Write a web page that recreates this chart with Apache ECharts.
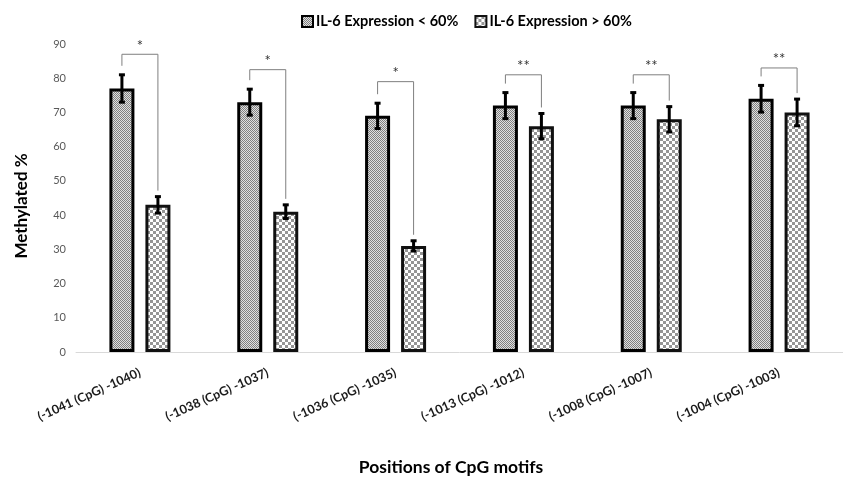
<!DOCTYPE html>
<html>
<head>
<meta charset="utf-8">
<script src="https://cdn.jsdelivr.net/npm/echarts@6/dist/echarts.min.js"></script>
<style>html,body{margin:0;padding:0;background:#fff}#c{width:843px;height:480px}</style>
</head>
<body>
<div id="c"></div>
<script>
const categories = ['(-1041 (CpG) -1040)', '(-1038 (CpG) -1037)', '(-1036 (CpG) -1035)', '(-1013 (CpG) -1012)', '(-1008 (CpG) -1007)', '(-1004 (CpG) -1003)'];
const seriesNames = ['IL-6 Expression < 60%', 'IL-6 Expression > 60%'];
const lowValues = [77, 73, 69, 72, 72, 74];
const highValues = [43, 41, 31, 66, 68, 70];
const lowErr = [4, 3.8, 3.7, 3.8, 3.8, 3.9];
const highErr = [2.4, 2, 1.5, 3.7, 3.7, 3.9];
const bracketTop = [87, 82.5, 79, 81, 81, 83];
const sigMarks = ['*', '*', '*', '**', '**', '**'];
const yTicks = { min: 0, max: 90, interval: 10 };

function makePattern(cell, c1, c2) {
  const cv = document.createElement('canvas');
  cv.width = cell * 2; cv.height = cell * 2;
  const ctx = cv.getContext('2d');
  ctx.fillStyle = c2; ctx.fillRect(0, 0, cell * 2, cell * 2);
  ctx.fillStyle = c1;
  ctx.fillRect(0, 0, cell, cell);
  ctx.fillRect(cell, cell, cell, cell);
  return { image: cv, repeat: 'repeat' };
}
const fineP = makePattern(1, '#808080', '#e0e0e0');
const coarseP = makePattern(3, '#959595', '#ffffff');

const OFF = 18; // half distance between bar centers in px
const chart = echarts.init(document.getElementById('c'));

const errData = [];
categories.forEach((c, i) => {
  errData.push([i, lowValues[i], lowErr[i], -1]);
  errData.push([i, highValues[i], highErr[i], 1]);
});
const brData = categories.map((c, i) => [i, bracketTop[i], lowValues[i] + lowErr[i], highValues[i] + highErr[i], i]);

chart.setOption({
  animation: false,
  textStyle: { fontFamily: 'Lato' },
  legend: {
    top: 9, left: 296,
    icon: 'rect',
    itemWidth: 11, itemHeight: 11, itemGap: 16,
    textStyle: { fontFamily: 'Lato', fontWeight: 'bold', fontSize: 14.5, color: '#000', padding: [0, 0, 0, -2] },
    data: seriesNames
  },
  grid: { left: 76, top: 44, width: 783, height: 308, containLabel: false },
  xAxis: {
    type: 'category', data: categories,
    axisLine: { lineStyle: { color: '#d9d9d9', width: 1 } },
    axisTick: { show: false },
    axisLabel: { rotate: 24, margin: 20, fontFamily: 'Lato', fontWeight: 'bold', fontSize: 12.5, color: '#1a1a1a', interval: 0 }
  },
  yAxis: {
    type: 'value', min: yTicks.min, max: yTicks.max, interval: yTicks.interval,
    splitLine: { show: false },
    axisLine: { show: false }, axisTick: { show: false },
    axisLabel: { fontFamily: 'Lato', fontSize: 11, color: '#595959', margin: 10 }
  },
  graphic: [
    { type: 'text', x: 22, y: 206, rotation: Math.PI / 2,
      style: { text: 'Methylated %', fontFamily: 'Lato', fontWeight: 'bold', fontSize: 17, fill: '#000', align: 'center', verticalAlign: 'middle' } },
    { type: 'text', x: 451, y: 467,
      style: { text: 'Positions of CpG motifs', fontFamily: 'Lato', fontWeight: 'bold', fontSize: 17.5, fill: '#000', align: 'center', verticalAlign: 'middle' } }
  ],
  series: [
    { name: seriesNames[0], type: 'bar', data: lowValues, barWidth: 25, barGap: '44%',
      itemStyle: { color: fineP, borderColor: '#000', borderWidth: 3 } },
    { name: seriesNames[1], type: 'bar', data: highValues, barWidth: 25,
      itemStyle: { color: coarseP, borderColor: '#111', borderWidth: 3 } },
    { type: 'custom', data: errData, z: 10, silent: true,
      renderItem: function (params, api) {
        const i = api.value(0), v = api.value(1), e = api.value(2), side = api.value(3);
        const x = api.coord([i, 0])[0] + side * OFF;
        const yt = api.coord([i, v + e])[1], yb = api.coord([i, v - e])[1];
        const st = { stroke: '#000', lineWidth: 3 };
        return { type: 'group', children: [
          { type: 'line', shape: { x1: x, y1: yt, x2: x, y2: yb }, style: st },
          { type: 'line', shape: { x1: x - 3, y1: yt, x2: x + 3, y2: yt }, style: st },
          { type: 'line', shape: { x1: x - 3, y1: yb, x2: x + 3, y2: yb }, style: st }
        ] };
      } },
    { type: 'custom', data: brData, z: 9, silent: true,
      renderItem: function (params, api) {
        const i = api.value(0);
        const cx = api.coord([i, 0])[0];
        const x1 = cx - OFF, x2 = cx + OFF;
        const yTop = api.coord([i, api.value(1)])[1];
        const yL = api.coord([i, api.value(2)])[1] - 9;
        const yR = api.coord([i, api.value(3)])[1] - 6;
        return { type: 'group', children: [
          { type: 'polyline', shape: { points: [[x1, yL], [x1, yTop], [x2, yTop], [x2, yR]] },
            style: { stroke: '#7f7f7f', lineWidth: 1, fill: null } },
          { type: 'text', x: cx, y: yTop - 1,
            style: { text: sigMarks[api.value(4)], fontFamily: 'Lato', fontSize: 15, fill: '#333', align: 'center', verticalAlign: 'bottom' } }
        ] };
      } }
  ]
});
</script>
</body>
</html>
